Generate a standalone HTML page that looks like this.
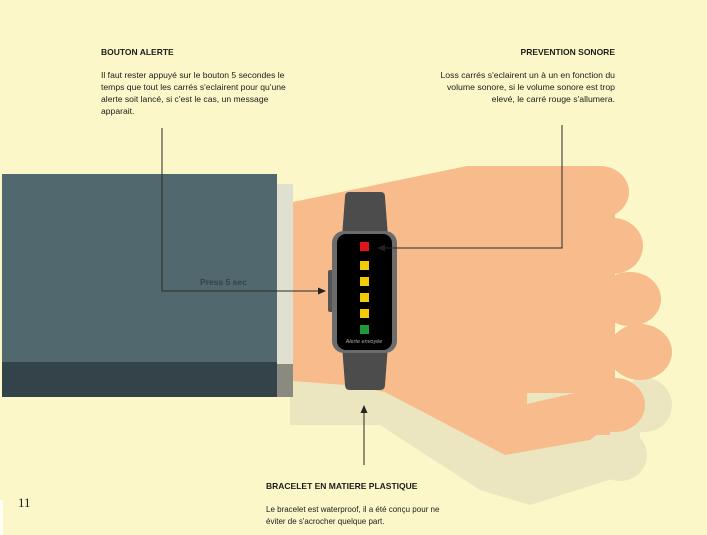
<!DOCTYPE html>
<html><head><meta charset="utf-8"><style>
html,body{margin:0;padding:0;background:#fcf7c8;}
svg{display:block}
text{font-family:"Liberation Sans",sans-serif;fill:#1c1c1c}
</style></head><body>
<svg width="707" height="535" viewBox="0 0 707 535" xmlns="http://www.w3.org/2000/svg">
<rect width="707" height="535" fill="#fcf7c8"/>
<rect x="0" y="500" width="3" height="35" fill="#fffef0"/>
<!-- shadow -->
<g fill="#ebe6bf">
<polygon points="290,372 380,375 505,400 560,400 640,380 640,470 530,505 480,490 380,425 290,425"/>
<ellipse cx="645" cy="405" rx="27" ry="27"/>
<ellipse cx="620" cy="455" rx="27" ry="26"/>
</g>
<!-- hand -->
<g fill="#f8bb8c">
<polygon points="293,202 467,166 600,166 615,190 615,420 590,440 505,455 385,392 345,385 293,381"/>
<ellipse cx="600" cy="192" rx="29" ry="26"/>
<ellipse cx="613" cy="246" rx="30" ry="28"/>
<ellipse cx="630" cy="299" rx="31" ry="27"/>
<ellipse cx="640" cy="352" rx="32" ry="28"/>
<ellipse cx="615" cy="405" rx="30" ry="27"/>
<rect x="560" y="380" width="50" height="55"/>
</g>
<polygon points="527,393 575,393 527,404" fill="#ebe6bf"/>
<!-- sleeve -->
<rect x="2" y="174" width="275" height="190" fill="#51686f"/>
<rect x="2" y="362" width="275" height="35" fill="#344349"/>
<rect x="277" y="184" width="16" height="180" fill="#dfe0d0"/>
<rect x="277" y="364" width="16" height="33" fill="#8a8a80"/>
<!-- watch -->
<path d="M349,192 H381 Q385,192 385,197 L388,237 H342 L345,197 Q345,192 349,192Z" fill="#4c4c4c"/>
<path d="M342,345 H388 L385,385 Q385,390 380,390 H350 Q345,390 345,385Z" fill="#4c4c4c"/>
<rect x="328" y="270" width="6" height="42" rx="2" fill="#555"/>
<rect x="332" y="231" width="65" height="122" rx="12" fill="#6b6b6b"/>
<rect x="337" y="234" width="55" height="116" rx="9" fill="#000"/>
<rect x="360" y="242" width="9" height="9" fill="#e0141a"/>
<rect x="360" y="261" width="9" height="9" fill="#f2cc00"/>
<rect x="360" y="277" width="9" height="9" fill="#f2cc00"/>
<rect x="360" y="293" width="9" height="9" fill="#f2cc00"/>
<rect x="360" y="309" width="9" height="9" fill="#f2cc00"/>
<rect x="360" y="325" width="9" height="9" fill="#1e9a3a"/>
<text x="364" y="343" font-size="5.5" font-style="italic" text-anchor="middle" style="fill:#aaa">Alerte envoyée</text>
<!-- connectors -->
<g stroke="#2a2a2a" stroke-width="1" fill="none">
<polyline points="162,128 162,291 322,291"/>
<polyline points="562,125 562,248 381,248"/>
<line x1="364" y1="465" x2="364" y2="409"/>
</g>
<polygon points="326,291 318,287.5 318,294.5" fill="#222"/>
<polygon points="377,248 385,244.5 385,251.5" fill="#222"/>
<polygon points="364,405 360.5,413 367.5,413" fill="#222"/>
<text x="200" y="285" font-size="8.5" font-weight="bold" style="fill:#34444a">Press 5 sec</text>
<!-- labels -->
<text x="101" y="55" font-size="8.5" font-weight="bold">BOUTON ALERTE</text>
<g font-size="8.6">
<text x="101" y="78">Il faut rester appuyé sur le bouton 5 secondes le</text>
<text x="101" y="90">temps que tout les carrés s'eclairent pour qu'une</text>
<text x="101" y="102">alerte soit lancé, si c'est le cas, un message</text>
<text x="101" y="114">apparait.</text>
</g>
<text x="615" y="55" font-size="8.5" font-weight="bold" text-anchor="end">PREVENTION SONORE</text>
<g font-size="8.7" text-anchor="end">
<text x="615" y="78">Loss carrés s'eclairent un à un en  fonction du</text>
<text x="615" y="90">volume sonore, si le volume sonore est trop</text>
<text x="615" y="102">elevé, le carré rouge s'allumera.</text>
</g>
<text x="266" y="489" font-size="8.5" font-weight="bold">BRACELET EN MATIERE PLASTIQUE</text>
<g font-size="8">
<text x="266" y="512">Le bracelet est waterproof, il a été conçu pour ne</text>
<text x="266" y="524">éviter de s'acrocher quelque part.</text>
</g>
<text x="18" y="507" font-size="13" style="font-family:'Liberation Serif',serif">11</text>
</svg>
</body></html>
